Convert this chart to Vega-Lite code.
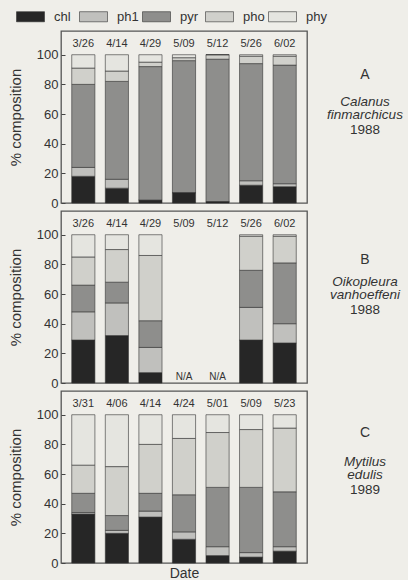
{
  "$schema": "https://vega.github.io/schema/vega-lite/v6.json",
  "background": "#efeee9",
  "padding": {"left": 7, "top": 2, "right": 0, "bottom": 0},
  "config": {
    "font": "Liberation Sans",
    "view": {"stroke": "#555", "strokeWidth": 1.3},
    "axisY": {
      "values": [0, 10, 20, 30, 40, 50, 60, 70, 80, 90, 100],
      "labelExpr": "datum.value % 20 === 0 ? datum.label : ''",
      "tickSize": {"condition": {"test": "datum.value % 20 === 0", "value": -4}, "value": -3},
      "tickColor": "#444",
      "domain": false,
      "grid": false,
      "labelFontSize": 13,
      "labelColor": "#333",
      "labelPadding": 7,
      "titleFontSize": 15,
      "titleFontWeight": "normal",
      "titleColor": "#333",
      "titlePadding": 13
    },
    "legend": {
      "direction": "horizontal",
      "gridAlign": "all",
      "symbolType": "M-1,-0.36H1V0.36H-1Z",
      "symbolSize": 784,
      "symbolStrokeColor": "#333",
      "symbolStrokeWidth": 0.6,
      "symbolOpacity": 1,
      "labelFontSize": 13,
      "labelColor": "#333",
      "labelOffset": 9,
      "columnPadding": 2,
      "padding": 0
    }
  },
  "datasets": {
    "bars": [
      {"panel": "A", "date": "3/26", "comp": "chl", "value": 18},
      {"panel": "A", "date": "3/26", "comp": "ph1", "value": 6},
      {"panel": "A", "date": "3/26", "comp": "pyr", "value": 56},
      {"panel": "A", "date": "3/26", "comp": "pho", "value": 11},
      {"panel": "A", "date": "3/26", "comp": "phy", "value": 9},
      {"panel": "A", "date": "4/14", "comp": "chl", "value": 10},
      {"panel": "A", "date": "4/14", "comp": "ph1", "value": 6},
      {"panel": "A", "date": "4/14", "comp": "pyr", "value": 66},
      {"panel": "A", "date": "4/14", "comp": "pho", "value": 7},
      {"panel": "A", "date": "4/14", "comp": "phy", "value": 11},
      {"panel": "A", "date": "4/29", "comp": "chl", "value": 2},
      {"panel": "A", "date": "4/29", "comp": "ph1", "value": 0},
      {"panel": "A", "date": "4/29", "comp": "pyr", "value": 90},
      {"panel": "A", "date": "4/29", "comp": "pho", "value": 3},
      {"panel": "A", "date": "4/29", "comp": "phy", "value": 5},
      {"panel": "A", "date": "5/09", "comp": "chl", "value": 7},
      {"panel": "A", "date": "5/09", "comp": "ph1", "value": 0},
      {"panel": "A", "date": "5/09", "comp": "pyr", "value": 89},
      {"panel": "A", "date": "5/09", "comp": "pho", "value": 2},
      {"panel": "A", "date": "5/09", "comp": "phy", "value": 2},
      {"panel": "A", "date": "5/12", "comp": "chl", "value": 1},
      {"panel": "A", "date": "5/12", "comp": "ph1", "value": 0},
      {"panel": "A", "date": "5/12", "comp": "pyr", "value": 96},
      {"panel": "A", "date": "5/12", "comp": "pho", "value": 3},
      {"panel": "A", "date": "5/12", "comp": "phy", "value": 0},
      {"panel": "A", "date": "5/26", "comp": "chl", "value": 12},
      {"panel": "A", "date": "5/26", "comp": "ph1", "value": 3},
      {"panel": "A", "date": "5/26", "comp": "pyr", "value": 79},
      {"panel": "A", "date": "5/26", "comp": "pho", "value": 5},
      {"panel": "A", "date": "5/26", "comp": "phy", "value": 1},
      {"panel": "A", "date": "6/02", "comp": "chl", "value": 11},
      {"panel": "A", "date": "6/02", "comp": "ph1", "value": 2},
      {"panel": "A", "date": "6/02", "comp": "pyr", "value": 80},
      {"panel": "A", "date": "6/02", "comp": "pho", "value": 6},
      {"panel": "A", "date": "6/02", "comp": "phy", "value": 1},
      {"panel": "B", "date": "3/26", "comp": "chl", "value": 29},
      {"panel": "B", "date": "3/26", "comp": "ph1", "value": 19},
      {"panel": "B", "date": "3/26", "comp": "pyr", "value": 18},
      {"panel": "B", "date": "3/26", "comp": "pho", "value": 19},
      {"panel": "B", "date": "3/26", "comp": "phy", "value": 15},
      {"panel": "B", "date": "4/14", "comp": "chl", "value": 32},
      {"panel": "B", "date": "4/14", "comp": "ph1", "value": 22},
      {"panel": "B", "date": "4/14", "comp": "pyr", "value": 14},
      {"panel": "B", "date": "4/14", "comp": "pho", "value": 22},
      {"panel": "B", "date": "4/14", "comp": "phy", "value": 10},
      {"panel": "B", "date": "4/29", "comp": "chl", "value": 7},
      {"panel": "B", "date": "4/29", "comp": "ph1", "value": 17},
      {"panel": "B", "date": "4/29", "comp": "pyr", "value": 18},
      {"panel": "B", "date": "4/29", "comp": "pho", "value": 44},
      {"panel": "B", "date": "4/29", "comp": "phy", "value": 14},
      {"panel": "B", "date": "5/26", "comp": "chl", "value": 29},
      {"panel": "B", "date": "5/26", "comp": "ph1", "value": 22},
      {"panel": "B", "date": "5/26", "comp": "pyr", "value": 25},
      {"panel": "B", "date": "5/26", "comp": "pho", "value": 23},
      {"panel": "B", "date": "5/26", "comp": "phy", "value": 1},
      {"panel": "B", "date": "6/02", "comp": "chl", "value": 27},
      {"panel": "B", "date": "6/02", "comp": "ph1", "value": 13},
      {"panel": "B", "date": "6/02", "comp": "pyr", "value": 41},
      {"panel": "B", "date": "6/02", "comp": "pho", "value": 18},
      {"panel": "B", "date": "6/02", "comp": "phy", "value": 1},
      {"panel": "C", "date": "3/31", "comp": "chl", "value": 33},
      {"panel": "C", "date": "3/31", "comp": "ph1", "value": 1},
      {"panel": "C", "date": "3/31", "comp": "pyr", "value": 13},
      {"panel": "C", "date": "3/31", "comp": "pho", "value": 19},
      {"panel": "C", "date": "3/31", "comp": "phy", "value": 34},
      {"panel": "C", "date": "4/06", "comp": "chl", "value": 20},
      {"panel": "C", "date": "4/06", "comp": "ph1", "value": 2},
      {"panel": "C", "date": "4/06", "comp": "pyr", "value": 10},
      {"panel": "C", "date": "4/06", "comp": "pho", "value": 33},
      {"panel": "C", "date": "4/06", "comp": "phy", "value": 35},
      {"panel": "C", "date": "4/14", "comp": "chl", "value": 31},
      {"panel": "C", "date": "4/14", "comp": "ph1", "value": 4},
      {"panel": "C", "date": "4/14", "comp": "pyr", "value": 12},
      {"panel": "C", "date": "4/14", "comp": "pho", "value": 33},
      {"panel": "C", "date": "4/14", "comp": "phy", "value": 20},
      {"panel": "C", "date": "4/24", "comp": "chl", "value": 16},
      {"panel": "C", "date": "4/24", "comp": "ph1", "value": 5},
      {"panel": "C", "date": "4/24", "comp": "pyr", "value": 25},
      {"panel": "C", "date": "4/24", "comp": "pho", "value": 38},
      {"panel": "C", "date": "4/24", "comp": "phy", "value": 16},
      {"panel": "C", "date": "5/01", "comp": "chl", "value": 5},
      {"panel": "C", "date": "5/01", "comp": "ph1", "value": 6},
      {"panel": "C", "date": "5/01", "comp": "pyr", "value": 40},
      {"panel": "C", "date": "5/01", "comp": "pho", "value": 37},
      {"panel": "C", "date": "5/01", "comp": "phy", "value": 12},
      {"panel": "C", "date": "5/09", "comp": "chl", "value": 4},
      {"panel": "C", "date": "5/09", "comp": "ph1", "value": 3},
      {"panel": "C", "date": "5/09", "comp": "pyr", "value": 44},
      {"panel": "C", "date": "5/09", "comp": "pho", "value": 39},
      {"panel": "C", "date": "5/09", "comp": "phy", "value": 10},
      {"panel": "C", "date": "5/23", "comp": "chl", "value": 8},
      {"panel": "C", "date": "5/23", "comp": "ph1", "value": 3},
      {"panel": "C", "date": "5/23", "comp": "pyr", "value": 37},
      {"panel": "C", "date": "5/23", "comp": "pho", "value": 43},
      {"panel": "C", "date": "5/23", "comp": "phy", "value": 9}
    ],
    "dates": [
      {"panel": "A", "date": "3/26", "note": ""},
      {"panel": "A", "date": "4/14", "note": ""},
      {"panel": "A", "date": "4/29", "note": ""},
      {"panel": "A", "date": "5/09", "note": ""},
      {"panel": "A", "date": "5/12", "note": ""},
      {"panel": "A", "date": "5/26", "note": ""},
      {"panel": "A", "date": "6/02", "note": ""},
      {"panel": "B", "date": "3/26", "note": ""},
      {"panel": "B", "date": "4/14", "note": ""},
      {"panel": "B", "date": "4/29", "note": ""},
      {"panel": "B", "date": "5/09", "note": "N/A"},
      {"panel": "B", "date": "5/12", "note": "N/A"},
      {"panel": "B", "date": "5/26", "note": ""},
      {"panel": "B", "date": "6/02", "note": ""},
      {"panel": "C", "date": "3/31", "note": ""},
      {"panel": "C", "date": "4/06", "note": ""},
      {"panel": "C", "date": "4/14", "note": ""},
      {"panel": "C", "date": "4/24", "note": ""},
      {"panel": "C", "date": "5/01", "note": ""},
      {"panel": "C", "date": "5/09", "note": ""},
      {"panel": "C", "date": "5/23", "note": ""}
    ],
    "ann": [
      {"panel": "A", "letter": "A", "sp1": "Calanus", "sp2": "finmarchicus", "year": "1988"},
      {"panel": "B", "letter": "B", "sp1": "Oikopleura", "sp2": "vanhoeffeni", "year": "1988"},
      {"panel": "C", "letter": "C", "sp1": "Mytilus", "sp2": "edulis", "year": "1989"}
    ]
  },
  "spacing": -2,
  "vconcat": [
    {
      "spacing": 0,
      "hconcat": [
        {
          "width": 246, "height": 172,
          "encoding": {
            "x": {"field": "date", "type": "nominal", "scale": {"domain": ["3/26", "4/14", "4/29", "5/09", "5/12", "5/26", "6/02"], "paddingInner": 0.31, "paddingOuter": 0.32}, "axis": null}
          },
          "layer": [
            {
              "data": {"name": "bars"},
              "transform": [{"filter": "datum.panel === 'A'"}, {"calculate": "indexof(['chl','ph1','pyr','pho','phy'], datum.comp)", "as": "k"}],
              "mark": {"type": "bar", "stroke": "#333", "strokeWidth": 0.6},
              "encoding": {
                "y": {"field": "value", "type": "quantitative", "stack": "zero", "scale": {"domain": [0, 116], "nice": false}, "axis": {"title": "% composition"}},
                "color": {"field": "comp", "type": "nominal", "sort": ["chl", "ph1", "pyr", "pho", "phy"], "scale": {"domain": ["chl", "ph1", "pyr", "pho", "phy"], "range": ["#262626", "#c0c0bd", "#8e8e8c", "#d0d0cb", "#e5e5e0"]}, "legend": {"title": null, "orient": "none", "legendX": -45, "legendY": -29}},
                "order": {"field": "k", "type": "quantitative", "sort": "ascending"}
              }
            },
            {
              "data": {"name": "dates"},
              "transform": [{"filter": "datum.panel === 'A'"}],
              "mark": {"type": "text", "fontSize": 11, "color": "#333", "baseline": "middle"},
              "encoding": {"y": {"datum": 107}, "text": {"field": "date"}}
            }
          ]
        },
        {
          "width": 100, "height": 172,
          "view": {"stroke": null},
          "data": {"name": "ann"},
          "transform": [{"filter": "datum.panel === 'A'"}],
          "encoding": {"x": {"datum": 0.57, "scale": {"domain": [0, 1]}, "axis": null}},
          "layer": [
            {"mark": {"type": "text", "fontSize": 14, "color": "#333"}, "encoding": {"y": {"datum": 89, "scale": {"domain": [0, 116]}, "axis": null}, "text": {"field": "letter"}}},
            {"mark": {"type": "text", "fontSize": 13.5, "fontStyle": "italic", "color": "#333"}, "encoding": {"y": {"datum": 70.5, "axis": null}, "text": {"field": "sp1"}}},
            {"mark": {"type": "text", "fontSize": 13.5, "fontStyle": "italic", "color": "#333"}, "encoding": {"y": {"datum": 61.6, "axis": null}, "text": {"field": "sp2"}}},
            {"mark": {"type": "text", "fontSize": 13.5, "color": "#333"}, "encoding": {"y": {"datum": 51, "axis": null}, "text": {"field": "year"}}}
          ]
        }
      ]
    },
    {
      "spacing": 0,
      "hconcat": [
        {
          "width": 246, "height": 172,
          "encoding": {
            "x": {"field": "date", "type": "nominal", "scale": {"domain": ["3/26", "4/14", "4/29", "5/09", "5/12", "5/26", "6/02"], "paddingInner": 0.31, "paddingOuter": 0.32}, "axis": null}
          },
          "layer": [
            {
              "data": {"name": "bars"},
              "transform": [{"filter": "datum.panel === 'B'"}, {"calculate": "indexof(['chl','ph1','pyr','pho','phy'], datum.comp)", "as": "k"}],
              "mark": {"type": "bar", "stroke": "#333", "strokeWidth": 0.6},
              "encoding": {
                "y": {"field": "value", "type": "quantitative", "stack": "zero", "scale": {"domain": [0, 116], "nice": false}, "axis": {"title": "% composition"}},
                "color": {"field": "comp", "type": "nominal", "sort": ["chl", "ph1", "pyr", "pho", "phy"], "scale": {"domain": ["chl", "ph1", "pyr", "pho", "phy"], "range": ["#262626", "#c0c0bd", "#8e8e8c", "#d0d0cb", "#e5e5e0"]}, "legend": {"title": null, "orient": "none", "legendX": -45, "legendY": -29}},
                "order": {"field": "k", "type": "quantitative", "sort": "ascending"}
              }
            },
            {
              "data": {"name": "dates"},
              "transform": [{"filter": "datum.panel === 'B'"}],
              "mark": {"type": "text", "fontSize": 11, "color": "#333", "baseline": "middle"},
              "encoding": {"y": {"datum": 107}, "text": {"field": "date"}}
            },
            {
              "data": {"name": "dates"},
              "transform": [{"filter": "datum.panel === 'B' && datum.note !== ''"}],
              "mark": {"type": "text", "fontSize": 10, "color": "#333", "baseline": "middle"},
              "encoding": {"y": {"datum": 4}, "text": {"field": "note"}}
            }
          ]
        },
        {
          "width": 100, "height": 172,
          "view": {"stroke": null},
          "data": {"name": "ann"},
          "transform": [{"filter": "datum.panel === 'B'"}],
          "encoding": {"x": {"datum": 0.57, "scale": {"domain": [0, 1]}, "axis": null}},
          "layer": [
            {"mark": {"type": "text", "fontSize": 14, "color": "#333"}, "encoding": {"y": {"datum": 86, "scale": {"domain": [0, 116]}, "axis": null}, "text": {"field": "letter"}}},
            {"mark": {"type": "text", "fontSize": 13.5, "fontStyle": "italic", "color": "#333"}, "encoding": {"y": {"datum": 70.5, "axis": null}, "text": {"field": "sp1"}}},
            {"mark": {"type": "text", "fontSize": 13.5, "fontStyle": "italic", "color": "#333"}, "encoding": {"y": {"datum": 61.6, "axis": null}, "text": {"field": "sp2"}}},
            {"mark": {"type": "text", "fontSize": 13.5, "color": "#333"}, "encoding": {"y": {"datum": 51, "axis": null}, "text": {"field": "year"}}}
          ]
        }
      ]
    },
    {
      "spacing": 0,
      "hconcat": [
        {
          "width": 246, "height": 172,
          "encoding": {
            "x": {"field": "date", "type": "nominal", "scale": {"domain": ["3/31", "4/06", "4/14", "4/24", "5/01", "5/09", "5/23"], "paddingInner": 0.31, "paddingOuter": 0.32}, "axis": {"labels": false, "ticks": false, "domain": false, "title": "Date", "titleFontSize": 14, "titleFontWeight": "normal", "titleColor": "#333", "titlePadding": 3}}
          },
          "layer": [
            {
              "data": {"name": "bars"},
              "transform": [{"filter": "datum.panel === 'C'"}, {"calculate": "indexof(['chl','ph1','pyr','pho','phy'], datum.comp)", "as": "k"}],
              "mark": {"type": "bar", "stroke": "#333", "strokeWidth": 0.6},
              "encoding": {
                "y": {"field": "value", "type": "quantitative", "stack": "zero", "scale": {"domain": [0, 116], "nice": false}, "axis": {"title": "% composition"}},
                "color": {"field": "comp", "type": "nominal", "sort": ["chl", "ph1", "pyr", "pho", "phy"], "scale": {"domain": ["chl", "ph1", "pyr", "pho", "phy"], "range": ["#262626", "#c0c0bd", "#8e8e8c", "#d0d0cb", "#e5e5e0"]}, "legend": {"title": null, "orient": "none", "legendX": -45, "legendY": -29}},
                "order": {"field": "k", "type": "quantitative", "sort": "ascending"}
              }
            },
            {
              "data": {"name": "dates"},
              "transform": [{"filter": "datum.panel === 'C'"}],
              "mark": {"type": "text", "fontSize": 11, "color": "#333", "baseline": "middle"},
              "encoding": {"y": {"datum": 107}, "text": {"field": "date"}}
            }
          ]
        },
        {
          "width": 100, "height": 172,
          "view": {"stroke": null},
          "data": {"name": "ann"},
          "transform": [{"filter": "datum.panel === 'C'"}],
          "encoding": {"x": {"datum": 0.57, "scale": {"domain": [0, 1]}, "axis": null}},
          "layer": [
            {"mark": {"type": "text", "fontSize": 14, "color": "#333"}, "encoding": {"y": {"datum": 91, "scale": {"domain": [0, 116]}, "axis": null}, "text": {"field": "letter"}}},
            {"mark": {"type": "text", "fontSize": 13.5, "fontStyle": "italic", "color": "#333"}, "encoding": {"y": {"datum": 70.5, "axis": null}, "text": {"field": "sp1"}}},
            {"mark": {"type": "text", "fontSize": 13.5, "fontStyle": "italic", "color": "#333"}, "encoding": {"y": {"datum": 61.6, "axis": null}, "text": {"field": "sp2"}}},
            {"mark": {"type": "text", "fontSize": 13.5, "color": "#333"}, "encoding": {"y": {"datum": 51, "axis": null}, "text": {"field": "year"}}}
          ]
        }
      ]
    }
  ]
}
